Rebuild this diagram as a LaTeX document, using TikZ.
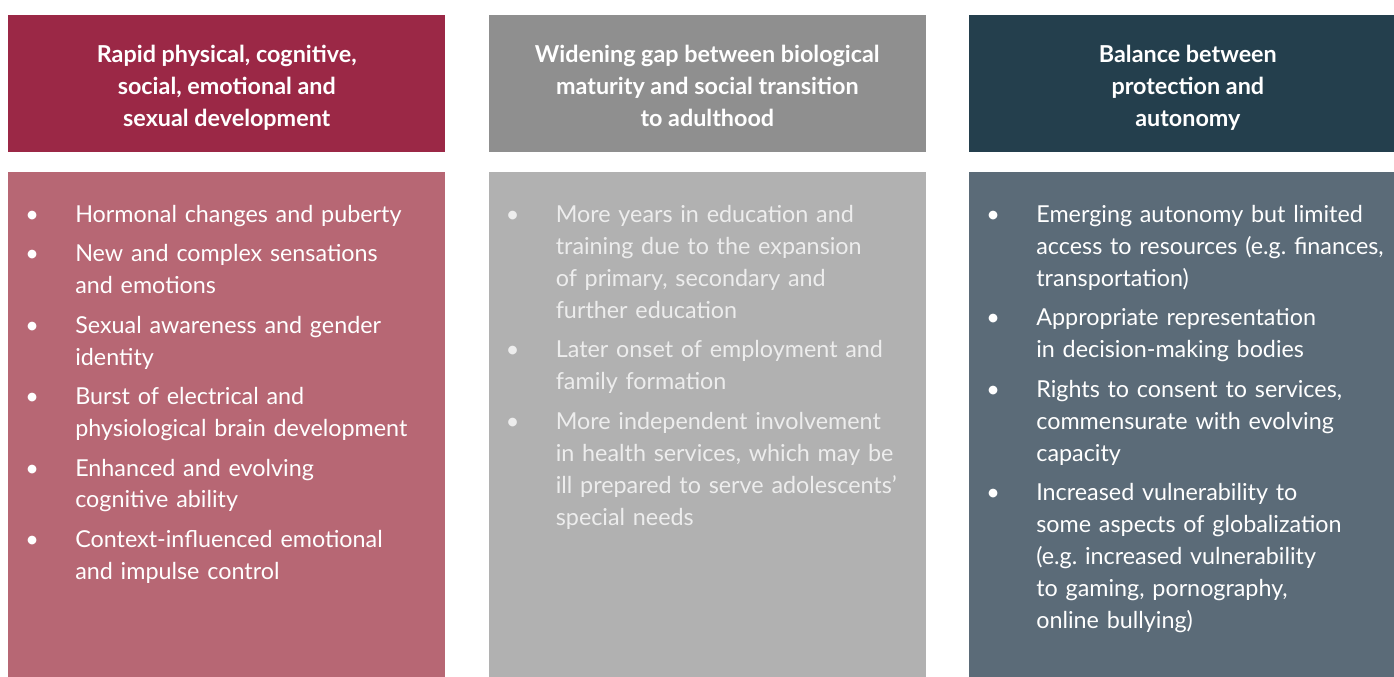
\documentclass[tikz,border=0pt]{standalone}
\usepackage{fontspec}
\setmainfont{Lato}
\usepackage{enumitem}
\usetikzlibrary{positioning}

\definecolor{berry}{HTML}{9B2846}
\definecolor{berrylight}{HTML}{B76774}
\definecolor{stone}{HTML}{8F8F8F}
\definecolor{stonelight}{HTML}{B1B1B1}
\definecolor{slate}{HTML}{243F4D}
\definecolor{slatelight}{HTML}{5B6B78}

\setlist[itemize]{label=\textbullet, leftmargin=50.25pt, labelindent=12.75pt,
  labelwidth=6pt, labelsep=*, align=left, topsep=0pt, partopsep=0pt,
  parsep=0pt, itemsep=5.6pt}

\begin{document}
\begin{tikzpicture}[x=0.75pt, y=-0.75pt, node distance=14.25pt and 32.25pt,
		head/.style={rectangle, inner sep=0pt, minimum width=327.75pt, minimum height=102.75pt},
		title/.style={inner sep=0pt, text=white, align=center,
			font=\fontsize{17.5}{24}\selectfont\bfseries},
		body/.style={rectangle, inner sep=0pt, minimum width=327.75pt, minimum height=381pt},
		points/.style={inner sep=0pt, text width=330pt, text=white,
			font=\fontsize{17.5}{24}\selectfont}]
		\clip (0,0) rectangle (1394,677);

		\node [head, fill=berry, anchor=north west] (physical) at (8,15) {};
		\node [head, fill=stone, right=of physical] (gap) {};
		\node [head, fill=slate, right=of gap] (balance) {};

		\node [title] (phystitle) at ([yshift=-3pt]physical.center) {Rapid physical, cognitive,\\ social, emotional and\\ sexual development};
		\node [title] (gaptitle) at ([yshift=-1.5pt]gap.center) {Widening gap between biological\\ maturity and social transition\\ to adulthood};
		\node [title] (baltitle) at ([yshift=-3pt]balance.center) {Balance between\\ protection and\\ autonomy};

		\node [body, fill=berrylight, below=of physical] (physbody) {};
		\node [body, fill=stonelight, below=of gap] (gapbody) {};
		\node [body, fill=slatelight, below=of balance] (balbody) {};

		\node [points, below right=13.75pt and 0pt of physbody.north west] (physlist) {\raggedright
			\begin{itemize}
				\item Hormonal changes and puberty
				\item New and complex sensations\\ and emotions
				\item Sexual awareness and gender\\ identity
				\item Burst of electrical and\\ physiological brain development
				\item Enhanced and evolving\\ cognitive ability
				\item Context-influenced emotional\\ and impulse control
			\end{itemize}};
		\node [points, text=white!93!black, below right=13.75pt and 0pt of gapbody.north west] (gaplist) {\raggedright
			\begin{itemize}
				\item More years in education and\\ training due to the expansion\\ of primary, secondary and\\ further education
				\item Later onset of employment and\\ family formation
				\item More independent involvement\\ in health services, which may be\\ ill prepared to serve adolescents’\\ special needs
			\end{itemize}};
		\node [points, below right=13.75pt and 0pt of balbody.north west] (ballist) {\raggedright
			\begin{itemize}
				\item Emerging autonomy but limited\\ access to resources (e.g.\ finances,\\ transportation)
				\item Appropriate representation\\ in decision-making bodies
				\item Rights to consent to services,\\ commensurate with evolving\\ capacity
				\item Increased vulnerability to\\ some aspects of globalization\\ (e.g.\ increased vulnerability\\ to gaming, pornography,\\ online bullying)
			\end{itemize}};
	\end{tikzpicture}
\end{document}
